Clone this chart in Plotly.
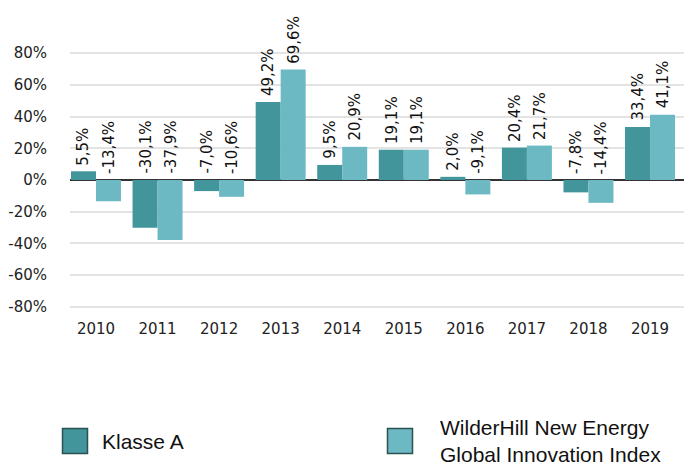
import plotly.graph_objects as go

years = ["2010", "2011", "2012", "2013", "2014", "2015", "2016", "2017", "2018", "2019"]
klasse_a = [5.5, -30.1, -7.0, 49.2, 9.5, 19.1, 2.0, 20.4, -7.8, 33.4]
wilderhill = [-13.4, -37.9, -10.6, 69.6, 20.9, 19.1, -9.1, 21.7, -14.4, 41.1]
series_names = ["Klasse A", "WilderHill New Energy<br>Global Innovation Index"]
y_ticks = [-80, -60, -40, -20, 0, 20, 40, 60, 80]
y_tick_labels = [f"{v}%" for v in y_ticks]

c_dark = "#42959A"
c_light = "#6CB9C4"

W, H = 684, 465
L, R, T, B = 70, 0, 42, 147

fig = go.Figure()
fig.add_trace(go.Bar(x=years, y=klasse_a, name=series_names[0], marker=dict(color=c_dark, line_width=0), showlegend=False))
fig.add_trace(go.Bar(x=years, y=wilderhill, name=series_names[1], marker=dict(color=c_light, line_width=0), showlegend=False))

def fmt(v):
    return f"{v:.1f}".replace(".", ",") + "%"

annotations = []
for series, shift in ((klasse_a, -12.5), (wilderhill, 12.5)):
    for i, v in enumerate(series):
        annotations.append(dict(
            x=i, y=max(v, 0), xref="x", yref="y", text=fmt(v), textangle=-90,
            showarrow=False, xanchor="center", yanchor="bottom", xshift=shift, yshift=4,
            font=dict(family="DejaVu Sans", size=15, color="#111111"),
        ))

# legend drawn manually
leg_font = dict(family="Liberation Sans, Arial", size=21, color="#111111")
shapes = []
for x0, col in ((62.5, c_dark), (387.5, c_light)):
    shapes.append(dict(type="rect", xref="paper", yref="paper",
                       x0=(x0 - L) / (W - L - R), x1=(x0 + 25 - L) / (W - L - R),
                       y0=(H - B - 453.5) / (H - T - B), y1=(H - B - 428.5) / (H - T - B),
                       fillcolor=col, line=dict(color="#2b5253", width=1.5)))
annotations.append(dict(x=(100 - L) / (W - L - R), y=(H - B - 441.5) / (H - T - B), xref="paper", yref="paper",
                        text=series_names[0], showarrow=False, xanchor="left", yanchor="middle", font=leg_font))
annotations.append(dict(x=(438 - L) / (W - L - R), y=(H - B - 441) / (H - T - B), xref="paper", yref="paper",
                        text=series_names[1], showarrow=False, xanchor="left", yanchor="middle", align="left", font=leg_font))

fig.update_layout(
    width=W, height=H,
    margin=dict(l=L, r=R, t=T, b=B, pad=0),
    paper_bgcolor="white", plot_bgcolor="white",
    barmode="group", bargap=0.188, bargroupgap=0,
    annotations=annotations, shapes=shapes,
    font=dict(family="DejaVu Sans", size=15, color="#222222"),
    xaxis=dict(type="category", range=[-0.422, 9.552], showgrid=False, showline=False,
               ticks="", tickfont=dict(family="DejaVu Sans", size=15, color="#222222")),
    yaxis=dict(range=[-87, 87], tickvals=y_ticks, ticktext=y_tick_labels, showgrid=True,
               gridcolor="#e3e3e3", gridwidth=1.5, zeroline=True, zerolinecolor="#333333", zerolinewidth=1.5,
               ticks="", ticklabelstandoff=22,
               tickfont=dict(family="DejaVu Sans", size=15, color="#222222")),
)

fig.write_html("out.html", config={"displayModeBar": False},
               post_script="document.body.style.margin='0';")
